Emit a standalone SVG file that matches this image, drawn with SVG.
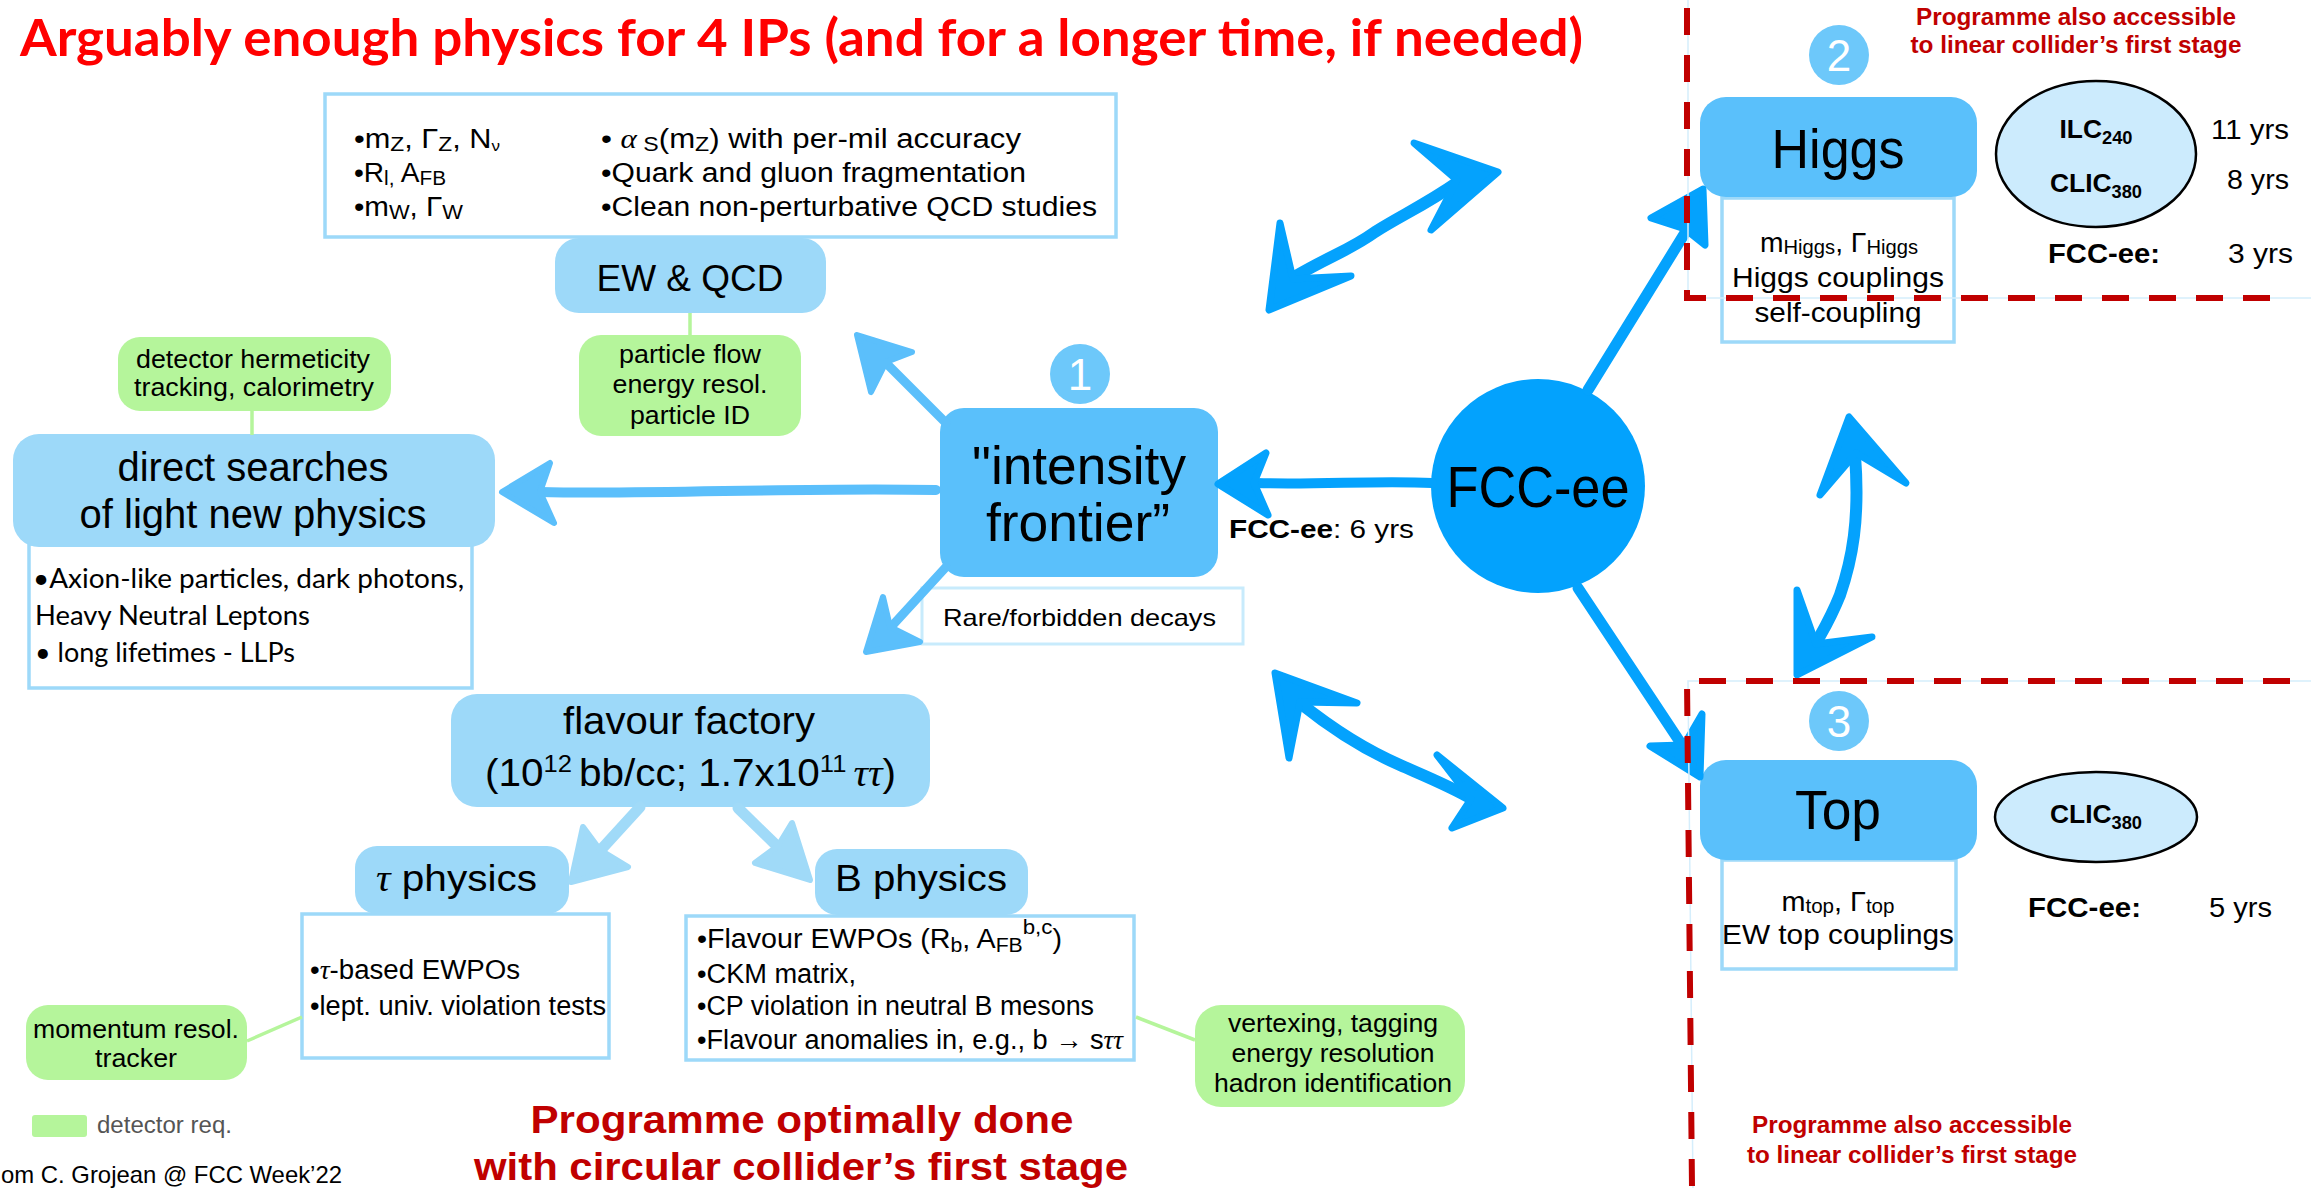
<svg xmlns="http://www.w3.org/2000/svg" width="2311" height="1188" viewBox="0 0 2311 1188">
<style>
.t{font-family:"Liberation Sans",Arial,sans-serif;fill:#000}
.cal{font-family:Lato,"Open Sans",sans-serif;fill:#000}
.ser{font-family:"Liberation Serif","Times New Roman",serif;font-style:italic}
.b{font-weight:bold}
.title{font-family:Lato,"Open Sans",sans-serif;font-weight:bold;fill:#FF0000}
.red{font-family:"Liberation Sans",Arial,sans-serif;font-weight:bold;fill:#C00000}
.lb{fill:#9DD9F9}
.mb{fill:#5AC0FB}
.info{fill:#fff;stroke:#9DD9F9;stroke-width:3.5}
.green{fill:#B5F59B}
.num{fill:#6DC8FA}
.numt{font-family:"Liberation Sans",Arial,sans-serif;fill:#fff;font-size:44px;text-anchor:middle}
.ell{fill:#CCEBFD;stroke:#000;stroke-width:2.5}
.gl{stroke:#B5F59B;stroke-width:3.5;fill:none}
.s1{stroke:#04A2FD;fill:none;stroke-linecap:round;stroke-linejoin:round}
.s2{stroke:#5BBFFB;fill:none;stroke-linecap:round;stroke-linejoin:round}
.s3{stroke:#A0DAF8;fill:none;stroke-linecap:round;stroke-linejoin:round}
.h1{fill:#04A2FD;stroke:#04A2FD;stroke-width:7;stroke-linejoin:round}
.h2{fill:#5BBFFB;stroke:#5BBFFB;stroke-width:6;stroke-linejoin:round}
.h3{fill:#A0DAF8;stroke:#A0DAF8;stroke-width:6;stroke-linejoin:round}
.dash{stroke:#C00000;stroke-width:6;stroke-dasharray:27 20;fill:none}
.thin{stroke:#D5EEFC;stroke-width:1.5;fill:none}
</style>
<rect width="2311" height="1188" fill="#fff"/>

<text id="title" x="20" y="56" class="title" font-size="52" textLength="1563" lengthAdjust="spacingAndGlyphs">Arguably enough physics for 4 IPs (and for a longer time, if needed)</text>

<!-- EW & QCD -->
<g id="ew-info">
<rect class="info" x="325" y="94" width="791" height="143"/>
<text class="t" x="354" y="148" font-size="27" textLength="146" lengthAdjust="spacingAndGlyphs">•m<tspan font-size="20" dy="3">Z</tspan><tspan dy="-3">, Γ</tspan><tspan font-size="20" dy="3">Z</tspan><tspan dy="-3">, N</tspan><tspan font-size="15" dy="3">ν</tspan></text>
<text class="t" x="354" y="182" font-size="27" textLength="92" lengthAdjust="spacingAndGlyphs">•R<tspan font-size="20" dy="3">l,</tspan><tspan dy="-3"> A</tspan><tspan font-size="20" dy="3">FB</tspan></text>
<text class="t" x="354" y="216" font-size="27" textLength="109" lengthAdjust="spacingAndGlyphs">•m<tspan font-size="20" dy="3">W</tspan><tspan dy="-3">, Γ</tspan><tspan font-size="20" dy="3">W</tspan></text>
<text class="t" x="601" y="148" font-size="27" textLength="420" lengthAdjust="spacingAndGlyphs">• <tspan class="ser">α</tspan><tspan font-size="20" dy="3"> S</tspan><tspan dy="-3">(m</tspan><tspan font-size="20" dy="3">Z</tspan><tspan dy="-3">) with per-mil accuracy</tspan></text>
<text class="t" x="601" y="182" font-size="27" textLength="425" lengthAdjust="spacingAndGlyphs">•Quark and gluon fragmentation</text>
<text class="t" x="601" y="216" font-size="27" textLength="496" lengthAdjust="spacingAndGlyphs">•Clean non-perturbative QCD studies</text>
</g>
<g id="ew-qcd">
<rect class="lb" x="555" y="238" width="271" height="75" rx="24"/>
<text class="t" x="690" y="291" font-size="36" text-anchor="middle" textLength="187" lengthAdjust="spacingAndGlyphs">EW &amp; QCD</text>
</g>

<!-- detector boxes -->
<g id="det-hermeticity">
<rect class="green" x="118" y="337" width="273" height="74" rx="22"/>
<text class="t" x="253" y="368" font-size="25" text-anchor="middle" textLength="234" lengthAdjust="spacingAndGlyphs">detector hermeticity</text>
<text class="t" x="254" y="396" font-size="25" text-anchor="middle" textLength="240" lengthAdjust="spacingAndGlyphs">tracking, calorimetry</text>
</g>
<g id="det-pflow">
<rect class="green" x="579" y="335" width="222" height="101" rx="22"/>
<text class="t" x="690" y="363" font-size="25" text-anchor="middle" textLength="142" lengthAdjust="spacingAndGlyphs">particle flow</text>
<text class="t" x="690" y="393" font-size="25" text-anchor="middle" textLength="155" lengthAdjust="spacingAndGlyphs">energy resol.</text>
<text class="t" x="690" y="424" font-size="25" text-anchor="middle" textLength="120" lengthAdjust="spacingAndGlyphs">particle ID</text>
</g>

<!-- direct searches -->
<g id="direct-info">
<rect class="info" x="29" y="544" width="443" height="144"/>
<text class="cal" x="33" y="588" font-size="26" textLength="431" lengthAdjust="spacingAndGlyphs">•Axion-like particles, dark photons,</text>
<text class="cal" x="35" y="625" font-size="26" textLength="275" lengthAdjust="spacingAndGlyphs">Heavy Neutral Leptons</text>
<text class="cal" x="35" y="662" font-size="26" textLength="260" lengthAdjust="spacingAndGlyphs">• long lifetimes - LLPs</text>
</g>
<g id="direct-searches">
<rect class="lb" x="13" y="434" width="482" height="113" rx="26"/>
<text class="t" x="253" y="481" font-size="40" text-anchor="middle" textLength="271" lengthAdjust="spacingAndGlyphs">direct searches</text>
<text class="t" x="253" y="528" font-size="40" text-anchor="middle" textLength="347" lengthAdjust="spacingAndGlyphs">of light new physics</text>
</g>

<!-- intensity frontier -->
<g id="intensity">
<rect class="mb" x="940" y="408" width="278" height="169" rx="24"/>
<text class="t" x="1079" y="484" font-size="53" text-anchor="middle" textLength="214" lengthAdjust="spacingAndGlyphs">"intensity</text>
<text class="t" x="1078" y="541" font-size="53" text-anchor="middle" textLength="184" lengthAdjust="spacingAndGlyphs">frontier”</text>
</g>
<g id="num1">
<circle class="num" cx="1080" cy="374" r="30"/>
<text class="numt" x="1080" y="390">1</text>
</g>
<g id="rare">
<rect x="922" y="588" width="321" height="56" fill="#fff" stroke="#C8EBFC" stroke-width="3"/>
<text class="t" x="943" y="626" font-size="24" textLength="273" lengthAdjust="spacingAndGlyphs">Rare/forbidden decays</text>
</g>
<g id="intensity-label">
<text class="t" x="1229" y="538" font-size="26" textLength="185" lengthAdjust="spacingAndGlyphs"><tspan class="b">FCC-ee</tspan>: 6 yrs</text>
</g>

<!-- FCC-ee -->
<g id="fccee">
<circle cx="1538" cy="486" r="107" fill="#03A2FD"/>
<text class="t" x="1538" y="507" font-size="57" text-anchor="middle" textLength="183" lengthAdjust="spacingAndGlyphs">FCC-ee</text>
</g>

<!-- flavour -->
<g id="flavour">
<rect class="lb" x="451" y="694" width="479" height="113" rx="26"/>
<text class="t" x="689" y="734" font-size="38" text-anchor="middle" textLength="252" lengthAdjust="spacingAndGlyphs">flavour factory</text>
<text class="t" x="485" y="786" font-size="38" textLength="411" lengthAdjust="spacingAndGlyphs">(10<tspan font-size="24" dy="-14">12 </tspan><tspan dy="14">bb/cc; 1.7x10</tspan><tspan font-size="24" dy="-14">11 </tspan><tspan dy="14" class="ser">ττ</tspan>)</text>
</g>
<g id="tau-info">
<rect class="info" x="302" y="914" width="307" height="144"/>
<text class="t" x="310" y="979" font-size="27" textLength="210" lengthAdjust="spacingAndGlyphs">•<tspan class="ser">τ</tspan>-based EWPOs</text>
<text class="t" x="310" y="1015" font-size="27" textLength="296" lengthAdjust="spacingAndGlyphs">•lept. univ. violation tests</text>
</g>
<g id="tau">
<rect class="lb" x="355" y="846" width="214" height="68" rx="22"/>
<text class="t" x="376" y="891" font-size="37" textLength="161" lengthAdjust="spacingAndGlyphs"><tspan class="ser">τ</tspan> physics</text>
</g>
<g id="b-info">
<rect class="info" x="686" y="916" width="448" height="144"/>
<text class="t" x="697" y="948" font-size="27" textLength="365" lengthAdjust="spacingAndGlyphs">•Flavour EWPOs (R<tspan font-size="20" dy="4">b</tspan><tspan dy="-4">, A</tspan><tspan font-size="20" dy="4">FB</tspan><tspan font-size="21" dy="-18">b,c</tspan><tspan dy="14">)</tspan></text>
<text class="t" x="697" y="983" font-size="27" textLength="159" lengthAdjust="spacingAndGlyphs">•CKM matrix,</text>
<text class="t" x="697" y="1015" font-size="27" textLength="397" lengthAdjust="spacingAndGlyphs">•CP violation in neutral B mesons</text>
<text class="t" x="697" y="1049" font-size="27" textLength="426" lengthAdjust="spacingAndGlyphs">•Flavour anomalies in, e.g., b → s<tspan class="ser">ττ</tspan></text>
</g>
<g id="bphys">
<rect class="lb" x="815" y="849" width="213" height="66" rx="22"/>
<text class="t" x="835" y="891" font-size="37" textLength="172" lengthAdjust="spacingAndGlyphs">B physics</text>
</g>
<g id="det-momentum">
<rect class="green" x="26" y="1005" width="221" height="75" rx="22"/>
<text class="t" x="136" y="1038" font-size="26" text-anchor="middle" textLength="206" lengthAdjust="spacingAndGlyphs">momentum resol.</text>
<text class="t" x="136" y="1067" font-size="26" text-anchor="middle" textLength="82" lengthAdjust="spacingAndGlyphs">tracker</text>
</g>
<g id="det-vertex">
<rect class="green" x="1195" y="1005" width="270" height="102" rx="26"/>
<text class="t" x="1333" y="1032" font-size="25" text-anchor="middle" textLength="210" lengthAdjust="spacingAndGlyphs">vertexing, tagging</text>
<text class="t" x="1333" y="1062" font-size="25" text-anchor="middle" textLength="203" lengthAdjust="spacingAndGlyphs">energy resolution</text>
<text class="t" x="1333" y="1092" font-size="25" text-anchor="middle" textLength="238" lengthAdjust="spacingAndGlyphs">hadron identification</text>
</g>
<g id="legend">
<rect class="green" x="32" y="1115" width="55" height="22" rx="3"/>
<text class="t" x="97" y="1133" font-size="23" style="fill:#555" textLength="135" lengthAdjust="spacingAndGlyphs">detector req.</text>
</g>
<text id="credit" class="t" x="1" y="1183" font-size="24" textLength="341" lengthAdjust="spacingAndGlyphs">om C. Grojean @ FCC Week’22</text>
<g id="circ-note">
<text class="red" x="802" y="1133" font-size="38" text-anchor="middle" textLength="543" lengthAdjust="spacingAndGlyphs">Programme optimally done</text>
<text class="red" x="801" y="1180" font-size="38" text-anchor="middle" textLength="654" lengthAdjust="spacingAndGlyphs">with circular collider’s first stage</text>
</g>

<!-- Higgs -->
<g id="higgs-info">
<rect class="info" x="1722" y="198" width="232" height="144"/>
<text class="t" x="1839" y="252" font-size="28" text-anchor="middle" textLength="158" lengthAdjust="spacingAndGlyphs">m<tspan font-size="20" dy="2">Higgs</tspan><tspan dy="-2">, Γ</tspan><tspan font-size="20" dy="2">Higgs</tspan></text>
<text class="t" x="1838" y="287" font-size="28" text-anchor="middle" textLength="212" lengthAdjust="spacingAndGlyphs">Higgs couplings</text>
<text class="t" x="1838" y="322" font-size="28" text-anchor="middle" textLength="167" lengthAdjust="spacingAndGlyphs">self-coupling</text>
</g>
<g id="higgs">
<rect class="mb" x="1700" y="97" width="277" height="100" rx="26"/>
<text class="t" x="1838" y="168" font-size="56" text-anchor="middle" textLength="133" lengthAdjust="spacingAndGlyphs">Higgs</text>
</g>
<g id="num2">
<circle class="num" cx="1839" cy="55" r="30"/>
<text class="numt" x="1839" y="71">2</text>
</g>
<g id="ilc-clic">
<ellipse class="ell" cx="2096" cy="154" rx="100" ry="73"/>
<text class="t b" x="2096" y="138" font-size="26" text-anchor="middle" textLength="73" lengthAdjust="spacingAndGlyphs">ILC<tspan font-size="18" dy="6">240</tspan></text>
<text class="t b" x="2096" y="192" font-size="26" text-anchor="middle" textLength="92" lengthAdjust="spacingAndGlyphs">CLIC<tspan font-size="18" dy="6">380</tspan></text>
</g>
<g id="higgs-years">
<text class="t" x="2211" y="139" font-size="28" textLength="78" lengthAdjust="spacingAndGlyphs">11 yrs</text>
<text class="t" x="2227" y="189" font-size="28" textLength="62" lengthAdjust="spacingAndGlyphs">8 yrs</text>
<text class="t b" x="2048" y="263" font-size="28" textLength="112" lengthAdjust="spacingAndGlyphs">FCC-ee:</text>
<text class="t" x="2228" y="263" font-size="28" textLength="65" lengthAdjust="spacingAndGlyphs">3 yrs</text>
</g>
<g id="linear-note-top">
<text class="red" x="2076" y="25" font-size="23" text-anchor="middle" textLength="320" lengthAdjust="spacingAndGlyphs">Programme also accessible</text>
<text class="red" x="2076" y="53" font-size="23" text-anchor="middle" textLength="331" lengthAdjust="spacingAndGlyphs">to linear collider’s first stage</text>
</g>

<!-- Top -->
<g id="top-info">
<rect class="info" x="1722" y="860" width="234" height="109"/>
<text class="t" x="1838" y="911" font-size="28" text-anchor="middle" textLength="113" lengthAdjust="spacingAndGlyphs">m<tspan font-size="20" dy="2">top</tspan><tspan dy="-2">, Γ</tspan><tspan font-size="20" dy="2">top</tspan></text>
<text class="t" x="1838" y="944" font-size="28" text-anchor="middle" textLength="232" lengthAdjust="spacingAndGlyphs">EW top couplings</text>
</g>
<g id="top">
<rect class="mb" x="1700" y="760" width="277" height="100" rx="26"/>
<text class="t" x="1838" y="829" font-size="56" text-anchor="middle" textLength="86" lengthAdjust="spacingAndGlyphs">Top</text>
</g>
<g id="num3">
<circle class="num" cx="1839" cy="721" r="30"/>
<text class="numt" x="1839" y="737">3</text>
</g>
<g id="clic-top">
<ellipse class="ell" cx="2096" cy="817" rx="101" ry="45"/>
<text class="t b" x="2096" y="823" font-size="26" text-anchor="middle" textLength="92" lengthAdjust="spacingAndGlyphs">CLIC<tspan font-size="18" dy="6">380</tspan></text>
</g>
<g id="top-years">
<text class="t b" x="2028" y="917" font-size="28" textLength="113" lengthAdjust="spacingAndGlyphs">FCC-ee:</text>
<text class="t" x="2209" y="917" font-size="28" textLength="63" lengthAdjust="spacingAndGlyphs">5 yrs</text>
</g>
<g id="linear-note-bottom">
<text class="red" x="1912" y="1133" font-size="23" text-anchor="middle" textLength="320" lengthAdjust="spacingAndGlyphs">Programme also accessible</text>
<text class="red" x="1912" y="1163" font-size="23" text-anchor="middle" textLength="330" lengthAdjust="spacingAndGlyphs">to linear collider’s first stage</text>
</g>

<!-- connectors -->
<g id="connectors">
<line class="gl" x1="252" y1="411" x2="252" y2="435"/>
<line class="gl" x1="690" y1="313" x2="690" y2="335"/>
<line class="gl" x1="247" y1="1041" x2="302" y2="1017"/>
<line class="gl" x1="1136" y1="1017" x2="1195" y2="1040"/>

<path class="s1" stroke-width="10" d="M1432,483 C1380,480 1320,485 1256,483"/>
<path class="h1" d="M1218,484 L1266,453 L1254,483 L1268,515 Z"/>

<path class="s2" stroke-width="10" d="M936,490 C800,487 650,495 540,492"/>
<path class="h2" d="M502,492 L550,463 L540,492 L554,523 Z"/>

<path class="s2" stroke-width="9" d="M946,423 L885,362"/>
<path class="h2" d="M857,335 L912,352 L886,362 L871,392 Z"/>

<path class="s2" stroke-width="9" d="M946,567 L891,627"/>
<path class="h2" d="M866,652 L883,597 L890,627 L920,642 Z"/>

<path class="s3" stroke-width="11" d="M640,807 L598,853"/>
<path class="h3" d="M571,882 L583,827 L600,850 L628,867 Z"/>

<path class="s3" stroke-width="11" d="M738,808 L778,847"/>
<path class="h3" d="M810,880 L792,823 L778,846 L755,863 Z"/>

<path class="s1" stroke-width="11" d="M1588,390 L1688,228"/>
<path class="h1" d="M1703,189 L1651,218 L1685,229 L1705,245 Z"/>

<path class="s1" stroke-width="11" d="M1578,588 L1684,748"/>
<path class="h1" d="M1700,777 L1650,746 L1684,745 L1702,714 Z"/>

<path class="s1" stroke-width="12" d="M1296,276 C1330,256 1350,250 1375,232 C1400,216 1425,205 1458,182"/>
<path class="h1" d="M1269,310 L1280,223 L1293,279 L1351,276 Z"/>
<path class="h1" d="M1498,172 L1414,143 L1457,180 L1431,230 Z"/>

<path class="s1" stroke-width="12" d="M1300,703 C1340,735 1370,752 1400,765 C1425,776 1450,786 1472,799"/>
<path class="h1" d="M1275,673 L1357,703 L1300,702 L1289,758 Z"/>
<path class="h1" d="M1503,808 L1437,755 L1471,799 L1452,828 Z"/>

<path class="s1" stroke-width="12" d="M1855,455 C1860,520 1852,560 1840,595 C1830,620 1822,632 1815,645"/>
<path class="h1" d="M1849,417 L1820,495 L1856,453 L1906,483 Z"/>
<path class="h1" d="M1797,675 L1797,590 L1816,644 L1872,637 Z"/>
</g>

<!-- dashed frames -->
<g id="frames">
<path class="thin" d="M1688,0 V298 H2311"/>
<path class="thin" d="M2311,681 H1688 L1693,1188"/>
<path class="dash" d="M1687,8 V298 H2290"/>
<path class="dash" d="M2290,681 H1687 L1692,1188"/>
</g>
</svg>
